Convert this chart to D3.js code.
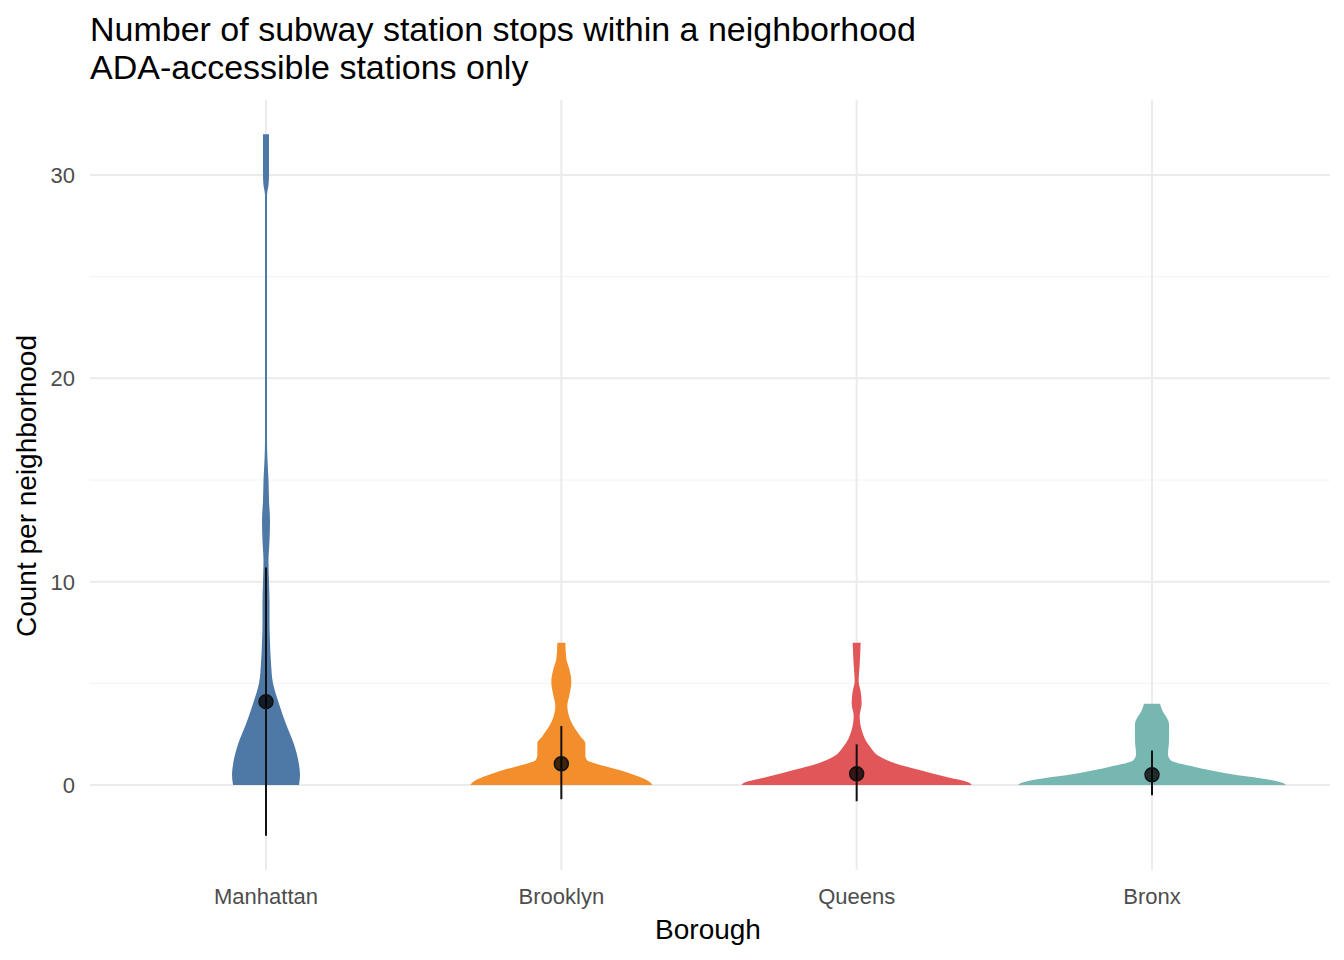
<!DOCTYPE html>
<html><head><meta charset="utf-8">
<script src="https://cdn.jsdelivr.net/npm/d3@7"></script>
<style>body{margin:0;background:#fff}text{font-family:"Liberation Sans",Arial,sans-serif}</style>
</head><body><svg id="chart" width="1344" height="960"></svg>
<script>
var boroughs = ["Manhattan", "Brooklyn", "Queens", "Bronx"];
var colors = ["#4E79A7", "#F28E2B", "#E15759", "#76B7B2"];
// violin outlines: value levels and half widths (relative density)
var manhattanY = [0, 0.5, 1, 2, 3, 4, 5, 6, 7, 8, 9, 10, 11, 12, 13, 14, 15, 16, 17, 18, 20, 25, 29, 29.5, 30, 31, 32];
var manhattanW = [33, 34, 33, 28, 20, 13, 7, 5, 4, 3.5, 3.5, 3, 2.5, 3.5, 4, 3, 2.5, 1.5, 1, 1, 1, 1, 1, 2.5, 3, 3, 3];
var brooklynY = [0, 0.12, 0.4, 0.74, 1.06, 1.2, 1.46, 2.05, 2.4, 3.2, 3.9, 4.4, 5.07, 5.7, 6.2, 7];
var brooklynW = [91, 89, 78, 58, 34, 26, 24, 24, 19, 9, 6, 8, 10, 8, 5, 4];
var queensY = [0, 0.12, 0.4, 0.74, 1.06, 1.4, 1.9, 2.7, 3.4, 4.0, 4.6, 5.1, 5.9, 7];
var queensW = [115, 112, 89, 63, 39, 23, 13, 5, 3, 5, 4, 2, 3, 4];
var bronxY = [0, 0.1, 0.25, 0.57, 0.9, 1.2, 1.5, 2.2, 3.0, 3.7, 4];
var bronxW = [134, 131, 119, 75, 42, 19, 16, 17, 17, 10, 8];
var means = [4.1, 1.05, 0.55, 0.5];
var lows = [-2.5, -0.7, -0.8, -0.5];
var highs = [10.7, 2.9, 2.0, 1.7];
var yTicks = [0, 10, 20, 30];
var yMinor = [5, 15, 25];

var violins = [[manhattanY, manhattanW], [brooklynY, brooklynW], [queensY, queensW], [bronxY, bronxW]].map(function(p) {
  return p[0].map(function(v, i) { return {v: v, w: p[1][i]}; });
});

var svg = d3.select("#chart");
var x = d3.scalePoint().domain(boroughs).range([266, 1152]);
var y = d3.scaleLinear().domain([0, 30]).range([785, 175]);
var wScale = d3.scaleLinear().domain([0, 1]).range([0, 1]);
var panelTop = 100, panelBottom = 870, panelLeft = 90, panelRight = 1330;

var grid = svg.append("g");
grid.selectAll(".minor").data(yMinor).enter().append("line")
  .attr("x1", panelLeft).attr("x2", panelRight).attr("y1", d => y(d)).attr("y2", d => y(d))
  .attr("stroke", "#f2f2f2").attr("stroke-width", 1);
grid.selectAll(".major").data(yTicks).enter().append("line")
  .attr("x1", panelLeft).attr("x2", panelRight).attr("y1", d => y(d)).attr("y2", d => y(d))
  .attr("stroke", "#ebebeb").attr("stroke-width", 2);
grid.selectAll(".vert").data(boroughs).enter().append("line")
  .attr("x1", d => x(d)).attr("x2", d => x(d)).attr("y1", panelTop).attr("y2", panelBottom)
  .attr("stroke", "#ebebeb").attr("stroke-width", 2);

violins.forEach(function(pts, i) {
  var cx = x(boroughs[i]);
  var area = d3.area().curve(d3.curveMonotoneY)
    .y(d => y(d.v)).x0(d => cx - wScale(d.w)).x1(d => cx + wScale(d.w));
  svg.append("path").attr("d", area(pts)).attr("fill", colors[i]);
});

boroughs.forEach(function(b, i) {
  svg.append("line").attr("x1", x(b)).attr("x2", x(b)).attr("y1", y(lows[i])).attr("y2", y(highs[i]))
    .attr("stroke", "#111").attr("stroke-width", 2);
  svg.append("circle").attr("cx", x(b)).attr("cy", y(means[i])).attr("r", 7)
    .attr("fill", "rgba(0,0,0,0.75)").attr("stroke", "#111").attr("stroke-width", 1.5);
});

svg.selectAll(".ylab").data(yTicks).enter().append("text")
  .attr("x", 75).attr("y", d => y(d) + 8).attr("text-anchor", "end")
  .attr("font-size", 22).attr("fill", "#4d4d4d").text(d => d);
svg.selectAll(".xlab").data(boroughs).enter().append("text")
  .attr("x", d => x(d)).attr("y", 904).attr("text-anchor", "middle")
  .attr("font-size", 22).attr("fill", "#4d4d4d").text(d => d);

svg.append("text").attr("x", 708).attr("y", 939).attr("text-anchor", "middle")
  .attr("font-size", 28).text("Borough");
svg.append("text").attr("transform", "translate(36,486) rotate(-90)").attr("text-anchor", "middle")
  .attr("font-size", 28).text("Count per neighborhood");
svg.append("text").attr("x", 90).attr("y", 41).attr("font-size", 34).text("Number of subway station stops within a neighborhood");
svg.append("text").attr("x", 90).attr("y", 79).attr("font-size", 34).text("ADA-accessible stations only");
</script></body></html>
